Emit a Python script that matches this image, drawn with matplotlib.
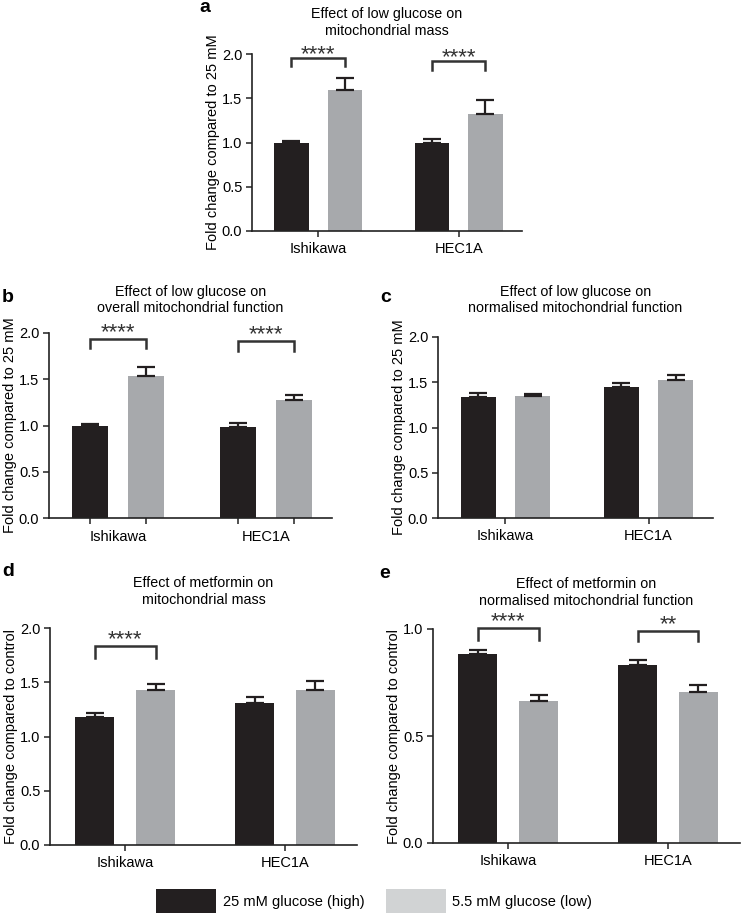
import numpy as np
import matplotlib
matplotlib.use("Agg")
import matplotlib.pyplot as plt
from matplotlib.patches import Patch

plt.rcParams["font.family"] = ["Liberation Sans", "DejaVu Sans"]

# === 0. data ===
cells = ["Ishikawa", "HEC1A"]
series_names = ["25 mM glucose (high)", "5.5 mM glucose (low)"]

a_high = [1.00, 1.00]
a_high_err = [0.02, 0.045]
a_low = [1.59, 1.32]
a_low_err = [0.14, 0.165]

b_high = [0.995, 0.987]
b_high_err = [0.025, 0.035]
b_low = [1.535, 1.279]
b_low_err = [0.10, 0.055]

c_high = [1.341, 1.447]
c_high_err = [0.044, 0.041]
c_low = [1.348, 1.525]
c_low_err = [0.026, 0.051]

d_high = [1.178, 1.31]
d_high_err = [0.042, 0.055]
d_low = [1.433, 1.433]
d_low_err = [0.047, 0.08]

e_high = [0.885, 0.830]
e_high_err = [0.018, 0.027]
e_low = [0.665, 0.706]
e_low_err = [0.025, 0.032]

# significance: (group index, bracket height, drop, stars)
a_sig = [(0, 1.96, 0.10, "****"), (1, 1.925, 0.105, "****")]
b_sig = [(0, 1.94, 0.10, "****"), (1, 1.914, 0.11, "****")]
c_sig = []
d_sig = [(0, 1.837, 0.113, "****")]
e_sig = [(0, 1.005, 0.055, "****"), (1, 0.99, 0.045, "**")]

titles = {
    "a": "Effect of low glucose on\nmitochondrial mass",
    "b": "Effect of low glucose on\noverall mitochondrial function",
    "c": "Effect of low glucose on\nnormalised mitochondrial function",
    "d": "Effect of metformin on\nmitochondrial mass",
    "e": "Effect of metformin on\nnormalised mitochondrial function",
}
ylab_glc = "Fold change compared to 25 mM"
ylab_met = "Fold change compared to control"

BLACK = "#231f20"
GREY = "#a7a9ac"
LEGEND_GREY = "#d1d3d4"

W, H = 741, 916
fig = plt.figure(figsize=(W / 100, H / 100), dpi=100)


def px_axes(left, right, top, bottom):
    return fig.add_axes([left / W, 1 - bottom / H, (right - left) / W, (bottom - top) / H])


def panel(ax, high, high_err, low, low_err, sig, title, ylabel, ymax, title_pad,
          star_lift=0, bar_ticks=False):
    x = np.arange(len(cells))
    off, bw = 0.19, 0.245
    ax.bar(x - off, high, bw, color=BLACK, zorder=2)
    ax.bar(x + off, low, bw, color=GREY, zorder=2)
    for xs, v, e in [(x - off, high, high_err), (x + off, low, low_err)]:
        ax.errorbar(xs, v, yerr=[np.zeros(len(v)), e], fmt="none", ecolor=BLACK,
                    elinewidth=1.6, capsize=6.5, capthick=1.6, zorder=3)
    for gi, yb, drop, stars in sig:
        x0, x1 = gi - off, gi + off
        ax.plot([x0, x0, x1, x1], [yb - drop, yb, yb, yb - drop], color="#333333",
                lw=1.8, clip_on=False, solid_joinstyle="miter")
        ax.annotate(stars, xy=(gi, yb), xytext=(0, star_lift), textcoords="offset points",
                    ha="center", va="baseline", fontsize=16, color="#333333",
                    annotation_clip=False)
    ax.set_xlim(-0.47, 1.45)
    ax.set_ylim(0, ymax)
    ax.set_yticks(np.arange(0, ymax + 0.01, 0.5))
    ax.set_yticklabels([f"{t:.1f}" for t in np.arange(0, ymax + 0.01, 0.5)])
    if bar_ticks:
        ax.set_xticks(np.concatenate([x - off, x + off]))
        ax.set_xticklabels([""] * 4)
        ax.set_xticks(x, minor=True)
        ax.set_xticklabels(cells, minor=True)
        ax.tick_params(axis="x", which="minor", length=0, pad=8.5, labelsize=10.5)
    else:
        ax.set_xticks(x)
        ax.set_xticklabels(cells)
    ax.tick_params(axis="both", which="major", direction="out", length=4.5, width=1.1,
                   labelsize=10.5, color="#222222")
    ax.tick_params(axis="y", pad=2.5)
    ax.spines["right"].set_visible(False)
    ax.spines["top"].set_visible(False)
    for s in ["left", "bottom"]:
        ax.spines[s].set_linewidth(1.2)
        ax.spines[s].set_color("#222222")
    ax.set_ylabel(ylabel, fontsize=10.5, labelpad=1.5)
    ax.set_title(title, fontsize=10.3, pad=title_pad, linespacing=1.22)


ax_a = px_axes(252, 522, 54, 231)
panel(ax_a, a_high, a_high_err, a_low, a_low_err, a_sig, titles["a"], ylab_glc, 2.0, 14, star_lift=-2)
ax_b = px_axes(49, 332, 333, 518)
panel(ax_b, b_high, b_high_err, b_low, b_low_err, b_sig, titles["b"], ylab_glc, 2.0, 15, star_lift=0.5, bar_ticks=True)
ax_c = px_axes(438, 713, 337, 518)
panel(ax_c, c_high, c_high_err, c_low, c_low_err, c_sig, titles["c"], ylab_glc, 2.0, 18)
ax_d = px_axes(50, 357, 628, 845)
panel(ax_d, d_high, d_high_err, d_low, d_low_err, d_sig, titles["d"], ylab_met, 2.0, 17.5, star_lift=0.5)
ax_e = px_axes(433, 740, 629, 843)
panel(ax_e, e_high, e_high_err, e_low, e_low_err, e_sig, titles["e"], ylab_met, 1.0, 17.5, star_lift=0.5)

# panel letters
for lab, (px, py) in {"a": (205, 8), "b": (8, 297), "c": (386, 297),
                      "d": (8, 571), "e": (385, 573)}.items():
    fig.text(px / W, 1 - py / H, lab, fontsize=14, fontweight="bold", ha="center", va="center")

# legend
handles = [Patch(facecolor=BLACK, edgecolor="none"), Patch(facecolor=LEGEND_GREY, edgecolor="none")]
fig.legend(handles, series_names, ncol=2, loc="center", bbox_to_anchor=(0.505, 1 - 901 / H),
           frameon=False, fontsize=10.5, handlelength=4.1, handleheight=2.05,
           handletextpad=0.45, columnspacing=1.5)

plt.savefig("out.png", dpi=100)
